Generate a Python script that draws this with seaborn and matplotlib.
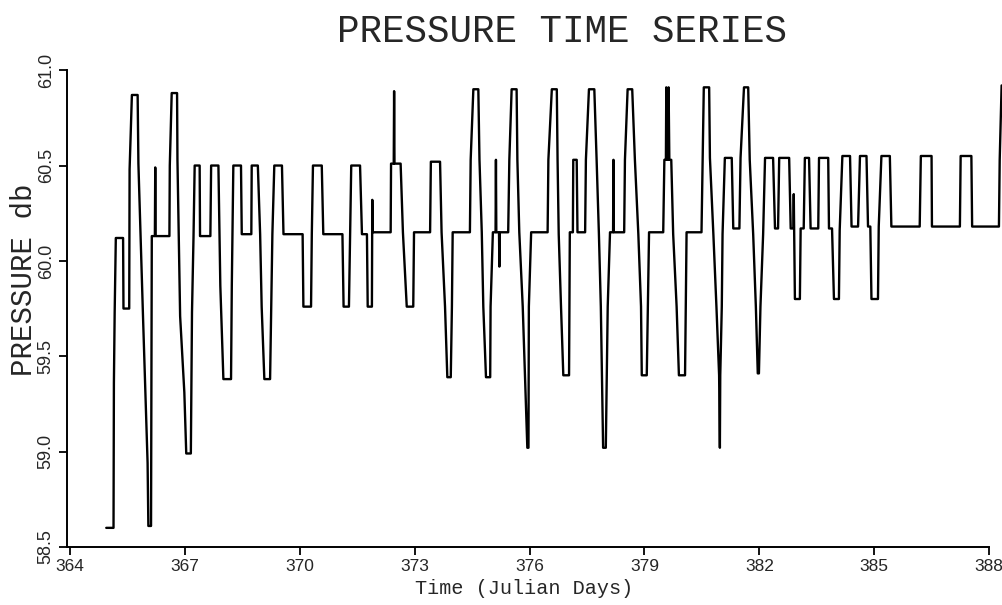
import matplotlib
matplotlib.use("Agg")
import matplotlib.pyplot as plt
import seaborn as sns
import pandas as pd

# pressure record (time in julian days, pressure in db)
days = [
    364.94, 365.13, 365.14, 365.16, 365.19, 365.38, 365.39, 365.54, 365.55, 365.61,
    365.76, 365.78, 365.90, 366.02, 366.04, 366.11, 366.13, 366.21, 366.22, 366.23,
    366.59, 366.60, 366.65, 366.79, 366.80, 366.87, 366.98, 367.03, 367.15, 367.18,
    367.22, 367.25, 367.38, 367.39, 367.66, 367.68, 367.87,
    367.92, 368.00, 368.20, 368.22, 368.26, 368.46, 368.48, 368.73, 368.74, 368.90,
    368.96, 369.00, 369.07, 369.22, 369.25, 369.28, 369.33, 369.53, 369.57, 370.07,
    370.09, 370.29, 370.31, 370.34, 370.57, 370.61, 371.11, 371.14, 371.28, 371.31,
    371.34, 371.57, 371.62, 371.75, 371.77, 371.88, 371.89, 371.90,
    372.37, 372.38, 372.45, 372.46, 372.47, 372.63, 372.69, 372.79, 372.96, 372.98,
    373.40, 373.42, 373.66, 373.70, 373.79, 373.85, 373.94, 373.97, 373.99, 374.44,
    374.46, 374.53, 374.66, 374.69, 374.75, 374.79, 374.86, 374.97, 374.98, 375.04,
    375.11, 375.12, 375.13, 375.20, 375.21, 375.22, 375.44, 375.47, 375.53, 375.66,
    375.68, 375.73, 375.82, 375.88, 375.94, 375.97, 375.98, 376.04,
    376.47, 376.49, 376.58, 376.71, 376.73, 376.76, 376.82, 376.88, 377.03, 377.05,
    377.13, 377.14, 377.23, 377.25, 377.45, 377.47, 377.55, 377.69, 377.75, 377.81,
    377.86, 377.92, 377.99, 378.04, 378.10, 378.18, 378.19, 378.20, 378.47, 378.49,
    378.56, 378.68, 378.75, 378.84, 378.91, 378.93, 379.06, 379.12, 379.49, 379.52,
    379.56, 379.57, 379.58, 379.62, 379.63, 379.65, 379.70, 379.75, 379.84, 379.90,
    380.06,
    380.08, 380.10, 380.49, 380.52, 380.55, 380.69, 380.71, 380.80, 380.88, 380.95,
    380.97, 380.98, 381.02, 381.04, 381.10, 381.28, 381.32, 381.48, 381.51, 381.60,
    381.71, 381.75, 381.84, 381.91, 381.96, 381.99, 382.03, 382.10, 382.15, 382.36,
    382.41, 382.49, 382.52, 382.78, 382.82, 382.89, 382.90, 382.91, 382.93, 383.06,
    383.08, 383.16, 383.19, 383.30, 383.34, 383.54, 383.56, 383.80, 383.82, 383.90,
    383.95, 384.08,
    384.10, 384.17, 384.37, 384.41, 384.58, 384.63, 384.80, 384.84, 384.90, 384.93,
    385.10, 385.12, 385.19, 385.41, 385.45, 386.19, 386.22, 386.50, 386.51, 387.24,
    387.26, 387.54, 387.56, 388.26, 388.28, 388.33,
]
pressure = [
    58.60, 58.60, 59.36, 59.73, 60.12, 60.12, 59.75, 59.75, 60.48, 60.87,
    60.87, 60.51, 59.71, 58.94, 58.61, 58.61, 60.13, 60.13, 60.49, 60.13,
    60.13, 60.50, 60.88, 60.88, 60.53, 59.71, 59.31, 58.99, 58.99, 59.73,
    60.13, 60.50, 60.50, 60.13, 60.13, 60.50, 60.50,
    59.87, 59.38, 59.38, 59.87, 60.50, 60.50, 60.14, 60.14, 60.50, 60.50,
    60.14, 59.76, 59.38, 59.38, 59.76, 60.14, 60.50, 60.50, 60.14, 60.14,
    59.76, 59.76, 60.14, 60.50, 60.50, 60.14, 60.14, 59.76, 59.76, 60.14,
    60.50, 60.50, 60.14, 60.14, 59.76, 59.76, 60.32, 60.15,
    60.15, 60.51, 60.51, 60.89, 60.51, 60.51, 60.15, 59.76, 59.76, 60.15,
    60.15, 60.52, 60.52, 60.15, 59.76, 59.39, 59.39, 59.76, 60.15, 60.15,
    60.53, 60.90, 60.90, 60.53, 60.15, 59.76, 59.39, 59.39, 59.76, 60.15,
    60.15, 60.53, 60.15, 60.15, 59.97, 60.15, 60.15, 60.53, 60.90, 60.90,
    60.53, 60.15, 59.76, 59.39, 59.02, 59.02, 59.76, 60.15,
    60.15, 60.53, 60.90, 60.90, 60.53, 60.14, 59.76, 59.40, 59.40, 60.15,
    60.15, 60.53, 60.53, 60.15, 60.15, 60.53, 60.90, 60.90, 60.53, 60.14,
    59.76, 59.02, 59.02, 59.76, 60.15, 60.15, 60.53, 60.15, 60.15, 60.53,
    60.90, 60.90, 60.53, 60.14, 59.76, 59.40, 59.40, 60.15, 60.15, 60.53,
    60.53, 60.91, 60.53, 60.53, 60.91, 60.53, 60.53, 60.14, 59.76, 59.40,
    59.40,
    59.76, 60.15, 60.15, 60.54, 60.91, 60.91, 60.54, 60.14, 59.76, 59.40,
    59.02, 59.40, 59.76, 60.14, 60.54, 60.54, 60.17, 60.17, 60.54, 60.91,
    60.91, 60.53, 60.14, 59.76, 59.41, 59.41, 59.76, 60.14, 60.54, 60.54,
    60.17, 60.17, 60.54, 60.54, 60.17, 60.17, 60.35, 60.17, 59.80, 59.80,
    60.17, 60.17, 60.54, 60.54, 60.17, 60.17, 60.54, 60.54, 60.17, 60.17,
    59.80, 59.80,
    60.16, 60.55, 60.55, 60.18, 60.18, 60.55, 60.55, 60.18, 60.18, 59.80,
    59.80, 60.18, 60.55, 60.55, 60.18, 60.18, 60.55, 60.55, 60.18, 60.18,
    60.55, 60.55, 60.18, 60.18, 60.53, 60.92,
]

x_ticks = [364, 367, 370, 373, 376, 379, 382, 385, 388]
y_ticks = [58.5, 59.0, 59.5, 60.0, 60.5, 61.0]

df = pd.DataFrame({"day": days, "pressure": pressure})

sns.set_style("ticks")
plt.rcParams["font.family"] = ["Liberation Mono", "DejaVu Sans"]
tick_font = ["Liberation Sans Narrow", "Liberation Sans", "DejaVu Sans"]

fig = plt.figure(figsize=(10.03, 6.05), dpi=100)
ax = fig.add_axes([0.067, 0.096, 0.932, 0.788])

sns.lineplot(data=df, x="day", y="pressure", sort=False, estimator=None,
             color="black", linewidth=1.7, ax=ax)
for ln in ax.lines:
    ln.set_clip_on(False)

ax.set_xlim(363.92, 388.34)
ax.set_ylim(58.5, 61.0)
ax.set_xticks(x_ticks)
ax.set_yticks(y_ticks)
ax.set_xticklabels([str(t) for t in x_ticks], fontfamily=tick_font, fontsize=12.5)
ax.set_yticklabels(["%.1f" % v for v in y_ticks], fontfamily=tick_font,
                   fontsize=13, rotation=90, va="center")
ax.tick_params(axis="both", direction="out", length=6, width=1.3, color="black", pad=3)
ax.set_xlabel("")
ax.set_ylabel("")

sns.despine(ax=ax)
ax.spines["bottom"].set_bounds(363.92, 388)
ax.spines["left"].set_bounds(58.5, 61.0)
for s in ["left", "bottom"]:
    ax.spines[s].set_linewidth(1.4)
    ax.spines[s].set_color("black")

fig.text(0.56, 1 - 32 / 605, "PRESSURE TIME SERIES", ha="center", va="center", fontsize=27)
fig.text(524 / 1003, 1 - 589 / 605, "Time (Julian Days)", ha="center", va="center", fontsize=14.5)
fig.text(24 / 1003, 1 - 280 / 605, "PRESSURE db", ha="center", va="center",
         rotation=90, fontsize=21)

fig.savefig("out.png", dpi=100)
